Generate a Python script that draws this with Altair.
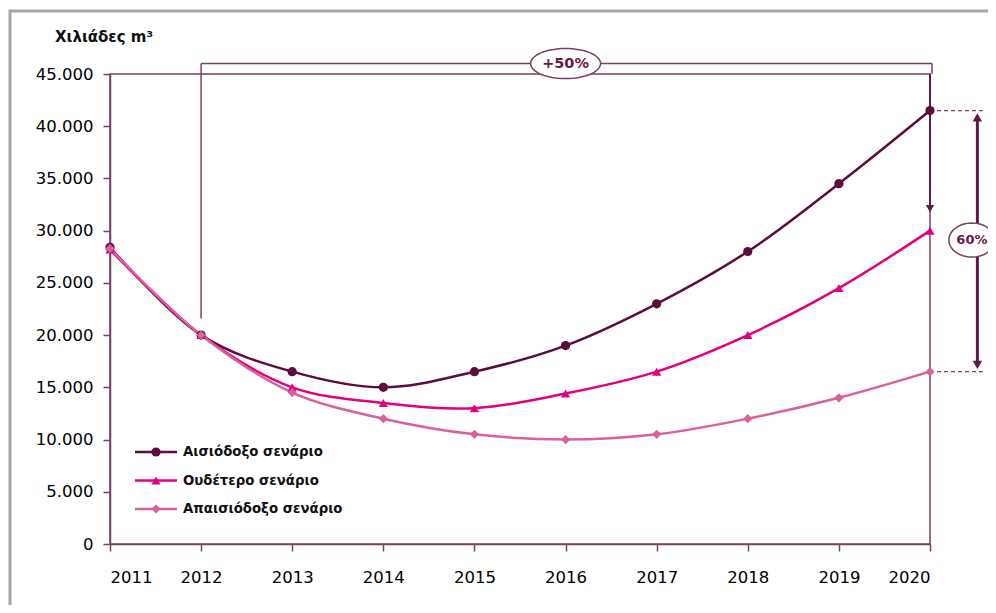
import math
import altair as alt
import pandas as pd

# ---------------- data ----------------
years = list(range(2011, 2021))
series_names = ["Αισιόδοξο σενάριο", "Ουδέτερο σενάριο", "Απαισιόδοξο σενάριο"]
optimistic = [28400, 20000, 16500, 15000, 16500, 19000, 23000, 28000, 34500, 41500]
neutral = [28200, 20000, 15000, 13500, 13000, 14400, 16500, 20000, 24500, 30000]
pessimistic = [28300, 20000, 14500, 12000, 10500, 10000, 10500, 12000, 14000, 16500]
y_ticks = [0, 5000, 10000, 15000, 20000, 25000, 30000, 35000, 40000, 45000]
y_title = "Χιλιάδες m³"
label_up = "+50%"
label_gap = "60%"

# ---------------- style ----------------
colors = ["#5c0d3e", "#e2007f", "#d8609c"]
shapes = ["circle", "triangle-up", "diamond"]
axis_col = "#7b3f62"
arrow_col = "#5a1a45"
text_col = "#6b1847"
FONT = "DejaVu Sans"

rows = []
for name, vals in zip(series_names, [optimistic, neutral, pessimistic]):
    for yr, v in zip(years, vals):
        rows.append({"year": yr, "value": v, "series": name})
df = pd.DataFrame(rows)

xscale = alt.Scale(domain=[2011, 2020], nice=False, zero=False)
yscale = alt.Scale(domain=[0, 45000], nice=False)
cscale = alt.Scale(domain=series_names, range=colors)
sscale = alt.Scale(domain=series_names, range=shapes)

X_AXIS = alt.Axis(values=years, format="d", title=None, tickSize=7,
                  labelPadding=18, grid=False)
Y_AXIS = alt.Axis(values=y_ticks, title=None, tickSize=7, labelPadding=10,
                  grid=False,
                  labelExpr="replace(format(datum.value, ','), ',', '.')")


def ax(field):
    return alt.X(f"{field}:Q", scale=xscale, axis=X_AXIS)


def ay(field):
    return alt.Y(f"{field}:Q", scale=yscale, axis=Y_AXIS)


lines = alt.Chart(df).mark_line(interpolate="catmull-rom", strokeWidth=2.5).encode(
    x=ax("year"), y=ay("value"),
    color=alt.Color("series:N", scale=cscale, legend=None),
    detail="series:N",
)
points = alt.Chart(df).mark_point(filled=True, size=85, opacity=1).encode(
    x=ax("year"), y=ay("value"),
    color=alt.Color("series:N", scale=cscale, legend=None),
    shape=alt.Shape("series:N", scale=sscale, legend=None),
)


def ellipse_path(ry, n=64):
    pts = []
    for k in range(n):
        t = 2 * math.pi * k / n
        pts.append(f"{math.cos(t):.4f},{ry * math.sin(t):.4f}")
    return "M" + " L".join(pts) + " Z"


# bracket (+50%)
x_right = 2020.022
bracket = pd.DataFrame([
    {"x": 2012, "x2": x_right, "y": 46000, "y2": 46000},
    {"x": 2012, "x2": 2012, "y": 46000, "y2": 21600},
    {"x": x_right, "x2": x_right, "y": 46000, "y2": 45000},
])
bracket_layer = alt.Chart(bracket).mark_rule(color=axis_col, strokeWidth=1.5).encode(
    x=ax("x"), x2="x2", y=ay("y"), y2="y2")

arrow1 = pd.DataFrame([{"x": 2020, "y": 45000, "y2": 32300}])
arrow1_layer = alt.Chart(arrow1).mark_rule(color=arrow_col, strokeWidth=2).encode(
    x=ax("x"), y=ay("y"), y2="y2")
head1 = pd.DataFrame([{"x": 2020, "y": 32100}])
head1_layer = alt.Chart(head1).mark_point(shape="triangle-down", filled=True, size=70,
                                          color=arrow_col, opacity=1).encode(
    x=ax("x"), y=ay("y"))

# 60% gap
x_gap = 2020.52
dashed = pd.DataFrame([
    {"x": 2020, "x2": 2020.58, "y": 41500},
    {"x": 2020, "x2": 2020.58, "y": 16500},
])
dashed_layer = alt.Chart(dashed).mark_rule(color=axis_col, strokeWidth=1.3,
                                           strokeDash=[4, 3]).encode(
    x=ax("x"), x2="x2", y=ay("y"))
shaft = pd.DataFrame([{"x": x_gap, "y": 40600, "y2": 17400}])
shaft_layer = alt.Chart(shaft).mark_rule(color=arrow_col, strokeWidth=3).encode(
    x=ax("x"), y=ay("y"), y2="y2")
heads = pd.DataFrame([
    {"x": x_gap, "y": 40850, "shape": "triangle-up"},
    {"x": x_gap, "y": 17150, "shape": "triangle-down"},
])
heads_layer = alt.Chart(heads).mark_point(filled=True, size=90, color=arrow_col,
                                          opacity=1).encode(
    x=ax("x"), y=ay("y"),
    shape=alt.Shape("shape:N", scale=None, legend=None))

# ellipses with labels
ell1 = pd.DataFrame([{"x": 2016.0, "y": 46000, "t": label_up}])
ell1_layer = alt.Chart(ell1).mark_point(shape=ellipse_path(0.43), size=4900, filled=True,
                                        fill="white", stroke=axis_col, strokeWidth=1.5,
                                        opacity=1, fillOpacity=1).encode(
    x=ax("x"), y=ay("y"))
ell1_text = alt.Chart(ell1).mark_text(font=FONT, fontWeight="bold", fontSize=14.5,
                                      color=text_col).encode(
    x=ax("x"), y=ay("y"), text="t:N")

ell2 = pd.DataFrame([{"x": 2020.46, "y": 29100, "t": label_gap}])
ell2_layer = alt.Chart(ell2).mark_point(shape=ellipse_path(0.74), size=2116, filled=True,
                                        fill="white", stroke=axis_col, strokeWidth=1.5,
                                        opacity=1, fillOpacity=1).encode(
    x=ax("x"), y=ay("y"))
ell2_text = alt.Chart(ell2).mark_text(font=FONT, fontWeight="bold", fontSize=13,
                                      color=text_col).encode(
    x=ax("x"), y=ay("y"), text="t:N")

# title text
one = pd.DataFrame([{"t": y_title}])
title_layer = alt.Chart(one).mark_text(font=FONT, fontWeight="bold", fontSize=15,
                                       align="left", baseline="alphabetic",
                                       color="#111111").encode(
    x=alt.value(-55), y=alt.value(-32), text="t:N")

# outer grey frame
frame_layer = alt.Chart(one).mark_rect(fill=None, stroke="#a6a6a6", strokeWidth=3).encode(
    x=alt.value(-100), x2=alt.value(1000), y=alt.value(-63), y2=alt.value(700))

# manual legend
legend_layers = []
for i, (name, col, shp) in enumerate(zip(series_names, colors, shapes)):
    yy = 378 + 28.5 * i
    ldf = pd.DataFrame([{"t": name}])
    legend_layers.append(alt.Chart(ldf).mark_rule(color=col, strokeWidth=2.5).encode(
        x=alt.value(25), x2=alt.value(67), y=alt.value(yy)))
    legend_layers.append(alt.Chart(ldf).mark_point(shape=shp, filled=True, size=85,
                                                   color=col, opacity=1).encode(
        x=alt.value(46), y=alt.value(yy)))
    legend_layers.append(alt.Chart(ldf).mark_text(font=FONT, fontWeight="bold", fontSize=13.3,
                                                  align="left", baseline="middle",
                                                  color="#111111").encode(
        x=alt.value(73), y=alt.value(yy), text="t:N"))

chart = alt.layer(
    frame_layer, bracket_layer, arrow1_layer, head1_layer, dashed_layer, shaft_layer,
    heads_layer, lines, points, ell1_layer, ell1_text, ell2_layer, ell2_text,
    title_layer, *legend_layers,
).properties(
    width=820, height=470,
    padding={"left": 102, "top": 66, "right": 58, "bottom": 61},
    autosize=alt.AutoSizeParams(type="none"),
    background="white",
).configure_view(
    stroke=axis_col, strokeWidth=1.5,
).configure_axis(
    domainColor=axis_col, domainWidth=1.5, tickColor=axis_col, tickWidth=1.5,
    labelFont=FONT, labelFontSize=16.5, labelColor="#000000",
)

chart.save("out.html", embed_options={"renderer": "svg", "actions": False})
